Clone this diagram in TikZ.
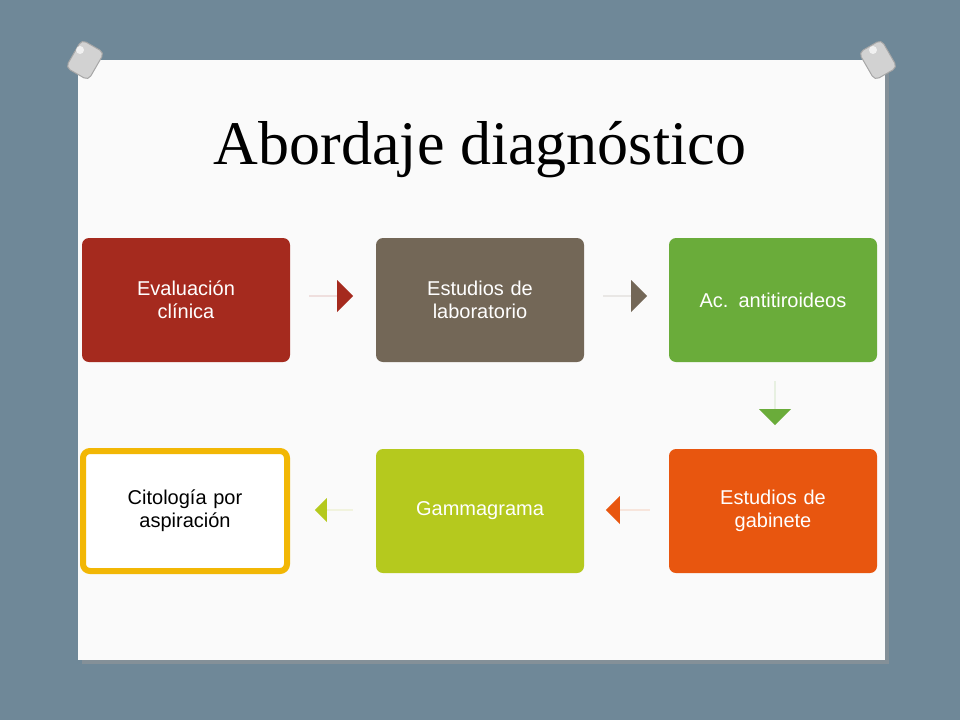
\documentclass[tikz,border=0pt]{standalone}
\usepackage{fontspec}
\setmainfont{Liberation Serif}
\setsansfont{Liberation Sans}
\usetikzlibrary{shapes.arrows}
\definecolor{slidebg}{HTML}{6F8898}
\definecolor{redbox}{HTML}{A52A1E}
\definecolor{greybox}{HTML}{736757}
\definecolor{greenbox}{HTML}{6AAC3A}
\definecolor{orangebox}{HTML}{E8560F}
\definecolor{limebox}{HTML}{B5C91E}
\definecolor{goldline}{HTML}{F2B705}
\tikzset{
  stepbox/.style={rounded corners=7pt,minimum width=208pt,minimum height=124pt,
    text width=150pt,align=center,text=white,font=\sffamily\fontsize{20}{23}\selectfont},
  blockarrow/.style={single arrow,minimum height=44pt,minimum width=32pt,
    single arrow head extend=15pt,single arrow tip angle=90,inner sep=0pt,outer sep=0pt},
  pin/.style={fill=gray!35,draw=gray!70,line width=1pt,rounded corners=5pt}
}
\begin{document}
\begin{tikzpicture}[x=1pt,y=-1pt]
	\useasboundingbox (0,0) rectangle (960,720);
	\fill[slidebg] (0,0) rectangle (960,720);
	\fill[black!40,opacity=0.5] (82,64) rectangle (889,664); %shadow
	\fill[white!96!gray] (78,60) rectangle (885,660);
	
	%PINS
	\draw[pin,rotate around={-30:(85,60)}] (72,44) rectangle (98,76);
	\fill[white,opacity=0.7] (80,50) circle (4);
	\draw[pin,rotate around={30:(878,60)}] (865,44) rectangle (891,76);
	\fill[white,opacity=0.7] (873,50) circle (4);
	
	%TITLE
	\node (title) at (480,150) {\fontsize{62}{68}\selectfont Abordaje diagnóstico};
	
	%BOXES
	\node[stepbox,fill=redbox] (eval) at (186,300) {Evaluación clínica};
	\node[stepbox,fill=greybox] (lab) at (480,300) {Estudios de laboratorio};
	\node[stepbox,fill=greenbox] (ac) at (773,300) {Ac. antitiroideos};
	\node[stepbox,fill=orangebox] (gab) at (773,511) {Estudios de gabinete};
	\node[stepbox,fill=limebox] (gamma) at (480,511) {Gammagrama};
	\node[stepbox,draw=goldline,line width=6pt,fill=white,text=black,
	  minimum width=204pt,minimum height=120pt] (cito) at (185,511) {Citología por aspiración};
	
	%ARROWS
	\node[blockarrow,fill=redbox] (a1) at (331,296) {};
	\node[blockarrow,fill=greybox] (a2) at (625,296) {};
	\node[blockarrow,fill=greenbox,shape border rotate=270] (a3) at (775,403) {};
	\node[blockarrow,fill=orangebox,shape border rotate=180,minimum width=28pt,single arrow head extend=12pt] (a4) at (628,510) {};
	\node[blockarrow,fill=limebox,shape border rotate=180,minimum width=24pt,single arrow head extend=10pt,minimum height=38pt] (a5) at (334,510) {};
\end{tikzpicture}
\end{document}
